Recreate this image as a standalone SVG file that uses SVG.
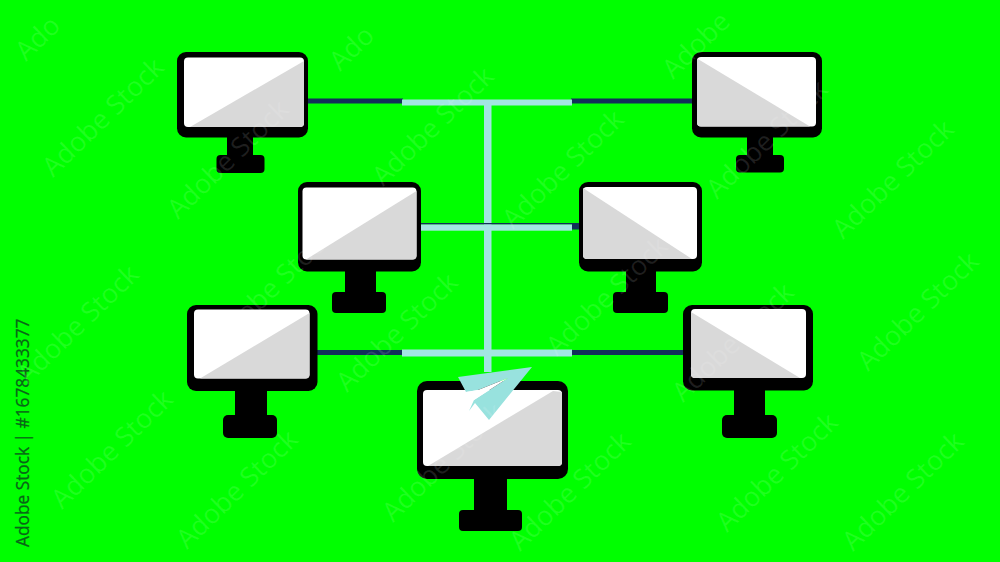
<svg xmlns="http://www.w3.org/2000/svg" width="1000" height="562" viewBox="0 0 1000 562">
<style>
.k{fill:#000}.w{fill:#fff}.g{fill:#d9d9d9}.d{fill:#12305a}.l{fill:#a2e6e2}
.wm{font-family:"Open Sans","Liberation Sans",sans-serif;font-size:27px;fill:#fff;fill-opacity:.12}
.id{font-family:"Open Sans","Liberation Sans",sans-serif;font-size:17.300px;fill:#0a6418;stroke:#0a6418;stroke-width:.25}
</style>
<rect width="1000" height="562" fill="#00ff00"/>
<text class="id" transform="translate(29,547) rotate(-90)">Adobe Stock | #1678433377</text>
<g id="connectors">
<rect class="d" x="308" y="98.500" width="95" height="5"/>
<rect class="d" x="571" y="98.500" width="121" height="5"/>
<rect class="l" x="402" y="99.500" width="170" height="6"/>
<rect class="l" x="484" y="100" width="7.500" height="272"/>
<rect class="d" x="421" y="223" width="158" height="1.500"/>
<rect class="l" x="421" y="224.500" width="151" height="6.200"/>
<rect class="d" x="572" y="224" width="7" height="5.500"/>
<rect class="d" x="317" y="350" width="86" height="5"/>
<rect class="d" x="571" y="350" width="113" height="5"/>
<rect class="l" x="402" y="349.500" width="170" height="7"/>
</g>
<g id="monitor-top-left">
<rect class="k" x="227" y="130" width="26" height="30"/><rect class="k" x="216.500" y="155" width="48" height="18" rx="4"/>
<rect class="k" x="177" y="52" width="131" height="85.500" rx="9"/>
<rect class="w" x="184" y="57.500" width="120" height="69.500" rx="4"/>
<path class="g" d="M304 61V123a4 4 0 0 1-4 4H190Z"/>
</g>
<g id="monitor-top-right">
<rect class="k" x="747" y="130" width="26" height="30"/><rect class="k" x="736" y="155" width="48" height="17.500" rx="4"/>
<rect class="k" x="692" y="52" width="130" height="85.500" rx="9"/>
<rect class="w" x="697" y="57" width="119" height="69.500" rx="4"/>
<path class="g" d="M697 58.500V122.500a4 4 0 0 0 4 4H810Z"/>
</g>
<g id="monitor-mid-left">
<rect class="k" x="345" y="265" width="31" height="30"/><rect class="k" x="332" y="292" width="54" height="21" rx="4"/>
<rect class="k" x="298" y="182" width="123" height="89.500" rx="9"/>
<rect class="w" x="302.500" y="187.500" width="114" height="72" rx="4"/>
<path class="g" d="M416.500 191V255.500a4 4 0 0 1-4 4H306Z"/>
</g>
<g id="monitor-mid-right">
<rect class="k" x="626" y="265" width="30" height="30"/><rect class="k" x="613" y="292" width="55" height="21" rx="4"/>
<rect class="k" x="579" y="182" width="123" height="89.500" rx="9"/>
<rect class="w" x="583" y="187" width="114" height="72" rx="4"/>
<path class="g" d="M583 188V255a4 4 0 0 0 4 4H692Z"/>
</g>
<g id="monitor-low-left">
<rect class="k" x="235" y="385" width="32" height="35"/><rect class="k" x="223" y="415" width="54" height="23" rx="5"/>
<rect class="k" x="187" y="305" width="130.500" height="86" rx="9"/>
<rect class="w" x="194" y="309.500" width="115.500" height="69" rx="4"/>
<path class="g" d="M309.500 313V374.500a4 4 0 0 1-4 4H200Z"/>
</g>
<g id="monitor-low-right">
<rect class="k" x="734" y="385" width="31" height="35"/><rect class="k" x="722" y="415" width="55" height="23" rx="5"/>
<rect class="k" x="683" y="305" width="130" height="85.500" rx="9"/>
<rect class="w" x="691" y="309" width="115" height="69" rx="4"/>
<path class="g" d="M691 312V374a4 4 0 0 0 4 4H800Z"/>
</g>
<g id="monitor-bottom">
<rect class="k" x="474" y="470" width="33" height="45"/><rect class="k" x="459" y="510" width="63" height="21" rx="4"/>
<rect class="k" x="417" y="381" width="151" height="98" rx="10"/>
<rect class="w" x="423" y="390" width="139" height="76" rx="4"/>
<path class="g" d="M562 392V462a4 4 0 0 1-4 4H428L553 391Z"/>
</g>
<g id="paper-plane">
<path fill="#98e2de" d="M458 377 532 367 489 420 475 403 469 411 474 400 508 378 478 390 466 392Z"/>
<path class="w" d="M508 378 478 390 466 392 474 400Z"/>
</g>
<g id="watermark">
<text class="wm" transform="translate(26,62) rotate(-44)">Ado</text>
<text class="wm" transform="translate(340,72) rotate(-44)">Ado</text>
<text class="wm" transform="translate(673,80) rotate(-44)">Adobe</text>
<text class="wm" transform="translate(53,178) rotate(-44)">Adobe Stock</text>
<text class="wm" transform="translate(178,220) rotate(-44)">Adobe Stock</text>
<text class="wm" transform="translate(383,187) rotate(-44)">Adobe Stock</text>
<text class="wm" transform="translate(513,230) rotate(-44)">Adobe Stock</text>
<text class="wm" transform="translate(717,200) rotate(-44)">Adobe Stock</text>
<text class="wm" transform="translate(843,240) rotate(-44)">Adobe Stock</text>
<text class="wm" transform="translate(28,385) rotate(-44)">Adobe Stock</text>
<text class="wm" transform="translate(223,347) rotate(-44)">Adobe Stock</text>
<text class="wm" transform="translate(347,393) rotate(-44)">Adobe Stock</text>
<text class="wm" transform="translate(557,357) rotate(-44)">Adobe Stock</text>
<text class="wm" transform="translate(683,403) rotate(-44)">Adobe Stock</text>
<text class="wm" transform="translate(868,372) rotate(-44)">Adobe Stock</text>
<text class="wm" transform="translate(62,510) rotate(-44)">Adobe Stock</text>
<text class="wm" transform="translate(187,550) rotate(-44)">Adobe Stock</text>
<text class="wm" transform="translate(393,523) rotate(-44)">Adobe Stock</text>
<text class="wm" transform="translate(520,552) rotate(-44)">Adobe Stock</text>
<text class="wm" transform="translate(727,533) rotate(-44)">Adobe Stock</text>
<text class="wm" transform="translate(853,552) rotate(-44)">Adobe Stock</text>
</g>
</svg>
